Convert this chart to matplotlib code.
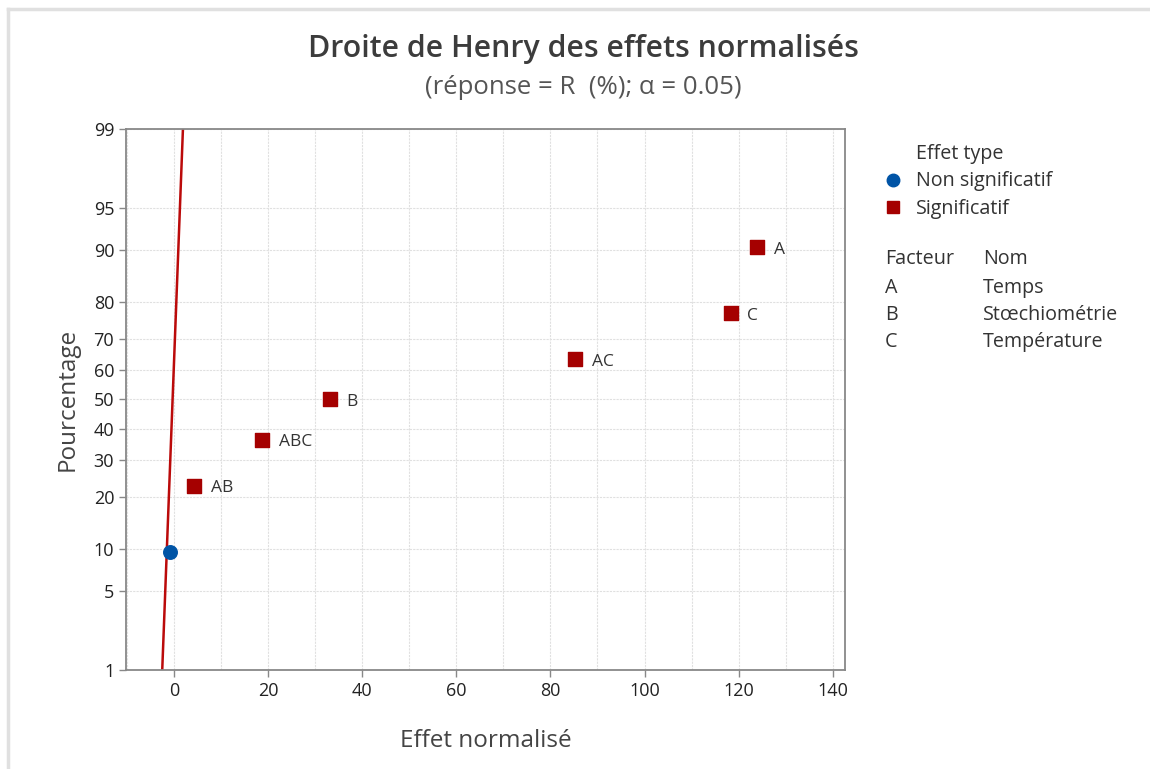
import math
import matplotlib
matplotlib.use("Agg")
import matplotlib.pyplot as plt
import numpy as np

plt.rcParams['font.family'] = ['Open Sans', 'DejaVu Sans']

# effets normalisés et probabilités (%)
ns_x = [-0.85]
ns_p = [9.46]
sig_names = ['AB', 'ABC', 'B', 'AC', 'C', 'A']
sig_x = [4.3, 18.7, 33.1, 85.2, 118.3, 123.9]
sig_p = [22.97, 36.49, 50.0, 63.51, 77.03, 90.54]
ref_x = [-2.5, 1.9]
ref_p = [1, 99]
y_ticks = [1, 5, 10, 20, 30, 40, 50, 60, 70, 80, 90, 95, 99]
x_ticks = [0, 20, 40, 60, 80, 100, 120, 140]
factors = ['A', 'B', 'C']
factor_names = ['Temps', 'Stœchiométrie', 'Température']

_cdf = np.vectorize(lambda z: 50.0 * (1.0 + math.erf(z / math.sqrt(2.0))), otypes=[float])


def _ppf1(p):
    p = min(max(p, 1e-6), 100 - 1e-6)
    lo, hi = -8.0, 8.0
    for _ in range(60):
        mid = 0.5 * (lo + hi)
        if 50.0 * (1.0 + math.erf(mid / math.sqrt(2.0))) < p:
            lo = mid
        else:
            hi = mid
    return 0.5 * (lo + hi)


_ppf = np.vectorize(_ppf1, otypes=[float])


def fwd(p):
    return _ppf(np.asarray(p, dtype=float))


def inv(z):
    return _cdf(np.asarray(z, dtype=float))


W, H = 1150, 769
fig = plt.figure(figsize=(W / 100, H / 100), dpi=100)
ax = fig.add_axes([126 / W, 1 - 670 / H, (845 - 126) / W, (670 - 129) / H])

ax.set_yscale('function', functions=(fwd, inv))
ax.set_ylim(1, 99)
ax.set_xlim(-10.2, 142.6)

red = '#A50000'
blue = '#0054A6'
txt = '#333333'
ax.plot(ref_x, ref_p, color='#BB0A0A', lw=1.8, zorder=2)
ax.scatter(ns_x, ns_p, marker='o', s=95, color=blue, zorder=4)
ax.scatter(sig_x, sig_p, marker='s', s=105, color=red, zorder=4)
for x, p, n in zip(sig_x, sig_p, sig_names):
    ax.annotate(n, (x, p), xytext=(12, -2), textcoords='offset points',
                va='center', ha='left', fontsize=12.5, color=txt)

ax.set_yticks(y_ticks)
ax.set_yticklabels([str(t) for t in y_ticks])
ax.set_xticks(x_ticks)
ax.set_xticks(np.arange(-10, 141, 10), minor=True)
ax.yaxis.set_minor_locator(matplotlib.ticker.NullLocator())
ax.grid(True, which='major', axis='y', color='#e0e0e0', ls=(0, (2, 1)), lw=0.8)
ax.grid(True, which='both', axis='x', color='#e0e0e0', ls=(0, (2, 1)), lw=0.8)
ax.tick_params(axis='x', which='minor', length=0)
ax.tick_params(axis='both', which='major', labelsize=13, colors='#222222',
               length=5, width=1, color='#888888')
for s in ax.spines.values():
    s.set_color('#888888')
    s.set_linewidth(1.3)

ax.set_xlabel('Effet normalisé', fontsize=17.5, color='#444444', labelpad=21)
ax.set_ylabel('Pourcentage', fontsize=17.5, color='#444444', labelpad=10)

fig.text(583 / W, 1 - 49 / H, 'Droite de Henry des effets normalisés',
         ha='center', va='center', fontsize=21.8, fontweight='semibold', color='#3c3c3c')
fig.text(583 / W, 1 - 87 / H, '(réponse = R  (%); α = 0.05)',
         ha='center', va='center', fontsize=18.5, color='#555555')

# légende
fs = 14.2
fig.text(916 / W, 1 - 154 / H, 'Effet type', va='center', fontsize=fs, color=txt)
fig.text(916 / W, 1 - 181 / H, 'Non significatif', va='center', fontsize=fs, color=txt)
fig.text(916 / W, 1 - 209 / H, 'Significatif', va='center', fontsize=fs, color=txt)
fig.lines.append(matplotlib.lines.Line2D([893 / W], [1 - 180 / H], marker='o', ms=9,
                                         color=blue, transform=fig.transFigure))
fig.lines.append(matplotlib.lines.Line2D([893 / W], [1 - 207 / H], marker='s', ms=9,
                                         color=red, transform=fig.transFigure))
fig.text(885 / W, 1 - 259 / H, 'Facteur', va='center', fontsize=fs, color=txt)
fig.text(983 / W, 1 - 259 / H, 'Nom', va='center', fontsize=fs, color=txt)
for i, (f, n) in enumerate(zip(factors, factor_names)):
    y = 1 - (288 + 27 * i) / H
    fig.text(885 / W, y, f, va='center', fontsize=fs, color=txt)
    fig.text(983 / W, y, n, va='center', fontsize=fs, color=txt)

# bordure grise en haut et à gauche
fig.lines.append(matplotlib.lines.Line2D([8 / W, 1], [1 - 9 / H, 1 - 9 / H], color='#e0e0e0',
                                         lw=2.5, transform=fig.transFigure))
fig.lines.append(matplotlib.lines.Line2D([8 / W, 8 / W], [0, 1 - 9 / H], color='#e0e0e0',
                                         lw=2.5, transform=fig.transFigure))

fig.savefig('out.png', dpi=100)
